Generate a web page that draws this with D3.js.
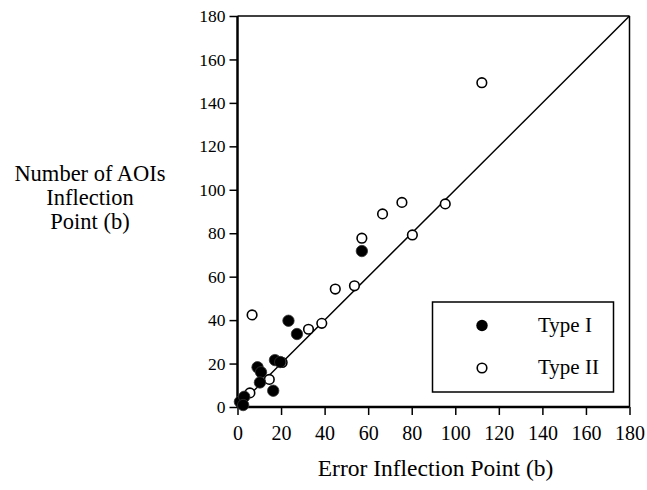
<!DOCTYPE html>
<html>
<head>
<meta charset="utf-8">
<script src="https://cdn.jsdelivr.net/npm/d3@7"></script>
<style>
  body { margin: 0; background: #fff; }
  svg { display: block; }
  text { font-family: "Liberation Serif", "Times New Roman", serif; fill: #000; }
</style>
</head>
<body>
<div id="chart"></div>
<script>
// Data
const typeIX = [57.1, 23.4, 27.3, 17.2, 19.6, 9.2, 10.8, 10.3, 16.4, 1.1, 3.1, 2.6];
const typeIY = [71.8, 39.7, 33.6, 21.6, 20.7, 18.3, 16.0, 11.3, 7.5, 2.4, 4.7, 0.9];
const typeIIX = [112.2, 95.4, 75.5, 66.6, 57.1, 80.3, 53.7, 44.9, 38.7, 32.6, 6.7, 14.6, 5.7, 20.5];
const typeIIY = [149.3, 93.5, 94.2, 88.9, 77.7, 79.2, 55.8, 54.3, 38.5, 35.8, 42.4, 12.7, 6.5, 20.5];
const tickValues = [0, 20, 40, 60, 80, 100, 120, 140, 160, 180];
const seriesNames = ["Type I", "Type II"];

const W = 647, H = 490;
const x0 = 237.5, x1 = 629.5, y0 = 407, y1 = 16;

const svg = d3.select("#chart").append("svg").attr("width", W).attr("height", H);

const x = d3.scaleLinear().domain([0, 180]).range([x0, x1]);
const y = d3.scaleLinear().domain([0, 180]).range([y0, y1]);

// Frame top & right
svg.append("line").attr("x1", x0).attr("x2", x1).attr("y1", y1).attr("y2", y1)
  .attr("stroke", "#000").attr("stroke-width", 1.5);
svg.append("line").attr("x1", x1).attr("x2", x1).attr("y1", y1).attr("y2", y0)
  .attr("stroke", "#000").attr("stroke-width", 1.5);

// Diagonal line y = x
svg.append("line").attr("x1", x(0)).attr("y1", y(0)).attr("x2", x(180)).attr("y2", y(180))
  .attr("stroke", "#000").attr("stroke-width", 1.5);

// Axes
const xAxis = d3.axisBottom(x).tickValues(tickValues).tickSize(8).tickPadding(11).tickFormat(d3.format("d"));
const yAxis = d3.axisLeft(y).tickValues(tickValues).tickSize(8).tickPadding(4).tickFormat(d3.format("d"));

const gx = svg.append("g").attr("transform", `translate(0,${y0})`).call(xAxis);
const gy = svg.append("g").attr("transform", `translate(${x0},0)`).call(yAxis);
[gx, gy].forEach(g => {
  g.select(".domain").attr("stroke", "#000").attr("stroke-width", 2.5);
  g.selectAll(".tick line").attr("stroke", "#000").attr("stroke-width", 1.5);
  g.selectAll(".tick text").style("font-family", '"Liberation Serif", serif').attr("fill", "#000");
});
gx.selectAll(".tick text").style("font-size", "20px");
gy.selectAll(".tick text").style("font-size", "17.5px");
gx.select(".domain").attr("d", `M${x0},0H${x1}`);
gy.select(".domain").attr("d", `M0,${y0}V${y1}`);

// Points: open first then filled
const openData = typeIIX.map((v, i) => ({ x: v, y: typeIIY[i] }));
const filledData = typeIX.map((v, i) => ({ x: v, y: typeIY[i] }));

svg.append("g").selectAll("circle").data(openData).join("circle")
  .attr("cx", d => x(d.x)).attr("cy", d => y(d.y)).attr("r", 4.8)
  .attr("fill", "#fff").attr("stroke", "#000").attr("stroke-width", 1.6);

svg.append("g").selectAll("circle").data(filledData).join("circle")
  .attr("cx", d => x(d.x)).attr("cy", d => y(d.y)).attr("r", 5.7)
  .attr("fill", "#000").attr("stroke", "#333").attr("stroke-width", 0.8);

// Legend
svg.append("rect").attr("x", 432.5).attr("y", 302).attr("width", 181).attr("height", 90)
  .attr("fill", "#fff").attr("stroke", "#000").attr("stroke-width", 1.5);
svg.append("circle").attr("cx", 482).attr("cy", 325.5).attr("r", 5.7).attr("fill", "#000");
svg.append("circle").attr("cx", 482).attr("cy", 368).attr("r", 4.8)
  .attr("fill", "#fff").attr("stroke", "#000").attr("stroke-width", 1.6);
svg.append("text").attr("x", 538).attr("y", 332).style("font-size", "21px").text(seriesNames[0]);
svg.append("text").attr("x", 538).attr("y", 374).style("font-size", "21px").text(seriesNames[1]);

// Axis titles
svg.append("text").attr("x", 435.5).attr("y", 476).attr("text-anchor", "middle")
  .style("font-size", "23.5px").text("Error Inflection Point (b)");
const yt = svg.append("text").attr("text-anchor", "middle").style("font-size", "22.5px");
[["Number of AOIs", 181], ["Inflection", 205], ["Point (b)", 229]].forEach(([t, yy]) => {
  yt.append("tspan").attr("x", 90).attr("y", yy).text(t);
});
</script>
</body>
</html>
